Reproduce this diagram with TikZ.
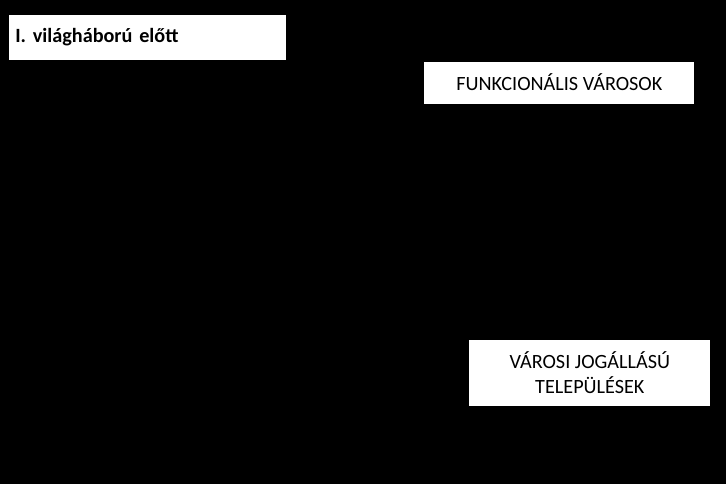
\documentclass[tikz,border=0pt]{standalone}
\usepackage{fontspec}
\setmainfont{Carlito}
\tikzset{
  labelbox/.style={fill=white, inner sep=0pt, font=\fontsize{11.5}{14}\selectfont}
}
\begin{document}
\begin{tikzpicture}
  % ====== Background ========
  \fill[black] (0,0) rectangle (14.52,9.68);
  \useasboundingbox (0,0) rectangle (14.52,9.68);
  % ====== Boxes ========
  \node[labelbox, minimum width=5.54cm, minimum height=0.9cm, anchor=south west,
        text width=5.3cm, align=left] (era) at (0.18,8.48) {\bfseries I. világháború előtt};
  \node[labelbox, minimum width=5.4cm, minimum height=0.84cm, anchor=south west,
        align=center] (func) at (8.48,7.6) {FUNKCIONÁLIS VÁROSOK};
  \node[labelbox, minimum width=4.82cm, minimum height=1.32cm, anchor=south west,
        align=center] (legal) at (9.38,1.56) {VÁROSI JOGÁLLÁSÚ\\TELEPÜLÉSEK};
\end{tikzpicture}
\end{document}
